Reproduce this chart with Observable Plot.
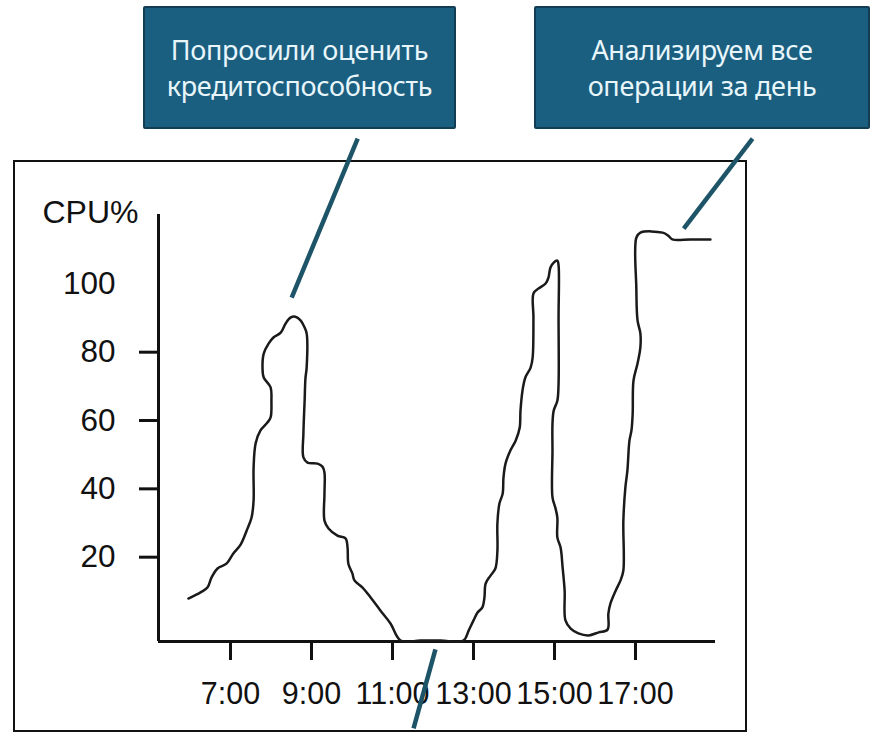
<!DOCTYPE html>
<html>
<head>
<meta charset="utf-8">
<script src="https://cdn.jsdelivr.net/npm/d3@7"></script>
<script src="https://cdn.jsdelivr.net/npm/@observablehq/plot@0.6"></script>
<style>
  html, body { margin: 0; padding: 0; background: #fff; }
  #wrap { position: relative; width: 874px; height: 733px; overflow: hidden; }
  #frame { position: absolute; left: 13px; top: 160px; width: 730px; height: 568px; border: 2.5px solid #111; box-sizing: content-box; }
  .callout { position: absolute; top: 6px; height: 123px; background: #1b5f80; border: 2px solid #133d52; border-radius: 2px;
             box-sizing: border-box; display: flex; align-items: center; justify-content: center; text-align: center;
             color: #e8f6fc; font-family: "Noto Sans", "Open Sans", sans-serif; font-size: 27px; line-height: 36px; letter-spacing: -0.3px; }
  #c1 { left: 143px; width: 313px; }
  #c2 { left: 534px; width: 336px; }
  #chart { position: absolute; left: 0; top: 0; }
</style>
</head>
<body>
<div id="wrap">
  <div id="frame"></div>
  <div id="chart"></div>
  <div class="callout" id="c1"></div>
  <div class="callout" id="c2"></div>
</div>
<script>
// ---- data (time in decimal hours, CPU in %) ----
const hours = [5.96,6.26,6.43,6.53,6.68,6.90,7.07,7.25,7.40,7.52,7.57,7.57,7.62,7.74,7.91,7.99,8.01,7.99,7.82,7.79,7.82,7.94,8.06,8.24,8.36,8.48,8.60,8.73,8.83,8.88,8.88,8.85,8.83,8.80,8.80,8.90,9.15,9.27,9.32,9.32,9.32,9.42,9.64,9.84,9.89,9.91,10.01,10.06,10.26,10.46,10.70,10.95,11.20,11.69,12.19,12.75,12.88,13.00,13.10,13.22,13.27,13.30,13.42,13.54,13.59,13.59,13.64,13.72,13.74,13.79,13.91,14.04,14.14,14.16,14.21,14.28,14.41,14.46,14.48,14.48,14.60,14.78,14.85,14.90,14.98,15.07,15.10,15.10,15.10,15.07,14.98,14.95,14.95,14.95,15.02,15.07,15.07,15.15,15.20,15.25,15.27,15.40,15.59,15.84,16.09,16.31,16.33,16.38,16.51,16.63,16.70,16.70,16.75,16.80,16.85,16.90,16.93,16.95,17.05,17.12,17.12,17.05,17.02,17.02,17.12,17.67,17.81,17.91,18.36,18.85];
const cpu   = [7.9,9.7,11.1,14.0,16.7,18.1,21.1,23.7,27.8,31.6,36.6,46.2,53.3,57.1,59.4,60.9,65.8,69.7,72.6,75.5,79.6,82.5,84.3,85.7,88.4,90.1,90.4,89.3,87.2,85.5,75.5,72.3,65.8,56.2,49.2,47.7,47.4,46.5,44.8,38.6,30.7,28.4,26.3,25.5,22.8,18.1,15.2,13.2,11.1,8.2,4.4,0.6,-4.4,-4.4,-4.4,-4.4,-1.5,1.5,3.8,5.3,8.2,12.3,14.6,16.7,21.9,29.9,35.7,38.6,43.3,47.4,51.2,54.1,57.9,62.9,68.8,72.6,75.5,78.4,90.1,97.2,98.6,100.1,101.8,104.8,106.2,106.8,105.4,90.1,70.8,65.8,62.9,59.1,51.2,37.5,34.5,31.6,25.8,22.8,17.0,10.2,1.5,-0.9,-2.3,-2.9,-2.0,-1.2,3.5,6.4,10.2,13.2,16.1,30.7,40.4,45.4,54.1,57.1,62.0,71.7,76.7,81.4,85.5,89.3,98.9,113.5,115.0,115.0,114.1,113.0,113.0,113.0];

const xTicks = [7, 9, 11, 13, 15, 17];
const xTickLabels = ["7:00", "9:00", "11:00", "13:00", "15:00", "17:00"];
const yTicks = [20, 40, 60, 80];
const yLabelTicks = [20, 40, 60, 80, 100];
const yTitle = "CPU%";

const calloutTexts = [
  ["Попросили оценить", "кредитоспособность"],
  ["Анализируем все", "операции за день"]
];
// leader lines, in data coordinates (hours, CPU%)
const leaderX1 = [10.14, 19.89, 12.06];
const leaderY1 = [142.5, 142.5, -7.0];
const leaderX2 = [8.51, 18.19, 11.52];
const leaderY2 = [96.0, 116.2, -30.1];

// ---- build ----
const series = hours.map((h, i) => ({h, cpu: cpu[i]}));
const leaders = leaderX1.map((x1, i) => ({x1, y1: leaderY1[i], x2: leaderX2[i], y2: leaderY2[i]}));
const xDomain = [5.222, 18.975];
const yDomain = [-4.68, 120.3];

const chart = Plot.plot({
  width: 874,
  height: 733,
  marginLeft: 158,
  marginRight: 159,
  marginTop: 214,
  marginBottom: 92,
  style: {fontFamily: "'Liberation Sans', Arial, sans-serif", fontSize: "31px", background: "transparent", overflow: "visible", color: "#111"},
  x: {domain: xDomain, label: null},
  y: {domain: yDomain, label: null},
  marks: [
    Plot.axisY({ticks: yTicks, tickSize: 19, text: null, strokeWidth: 3, label: null}),
    Plot.axisY({ticks: yLabelTicks, tickSize: 0, tickPadding: 43, fontSize: 31.5, label: null}),
    Plot.axisX({ticks: xTicks, tickSize: 19, tickPadding: 22, strokeWidth: 3, fontSize: 30.5, label: null,
                tickFormat: (d) => xTickLabels[xTicks.indexOf(d)]}),
    Plot.ruleX([xDomain[0]], {stroke: "#111", strokeWidth: 3}),
    Plot.ruleY([yDomain[0]], {stroke: "#111", strokeWidth: 3}),
    Plot.line(series, {x: "h", y: "cpu", stroke: "#1a1a1a", strokeWidth: 2.5, curve: "catmull-rom"}),
    Plot.text([yTitle], {frameAnchor: "top-left", dx: -20, dy: -14, textAnchor: "end", fontSize: 32, fill: "#111"}),
    Plot.link(leaders, {x1: "x1", y1: "y1", x2: "x2", y2: "y2", stroke: "#1d5468", strokeWidth: 4.5})
  ]
});
document.getElementById("chart").appendChild(chart);

["c1", "c2"].forEach((id, i) => {
  document.getElementById(id).innerHTML = calloutTexts[i].join("<br>");
});
</script>
</body>
</html>
